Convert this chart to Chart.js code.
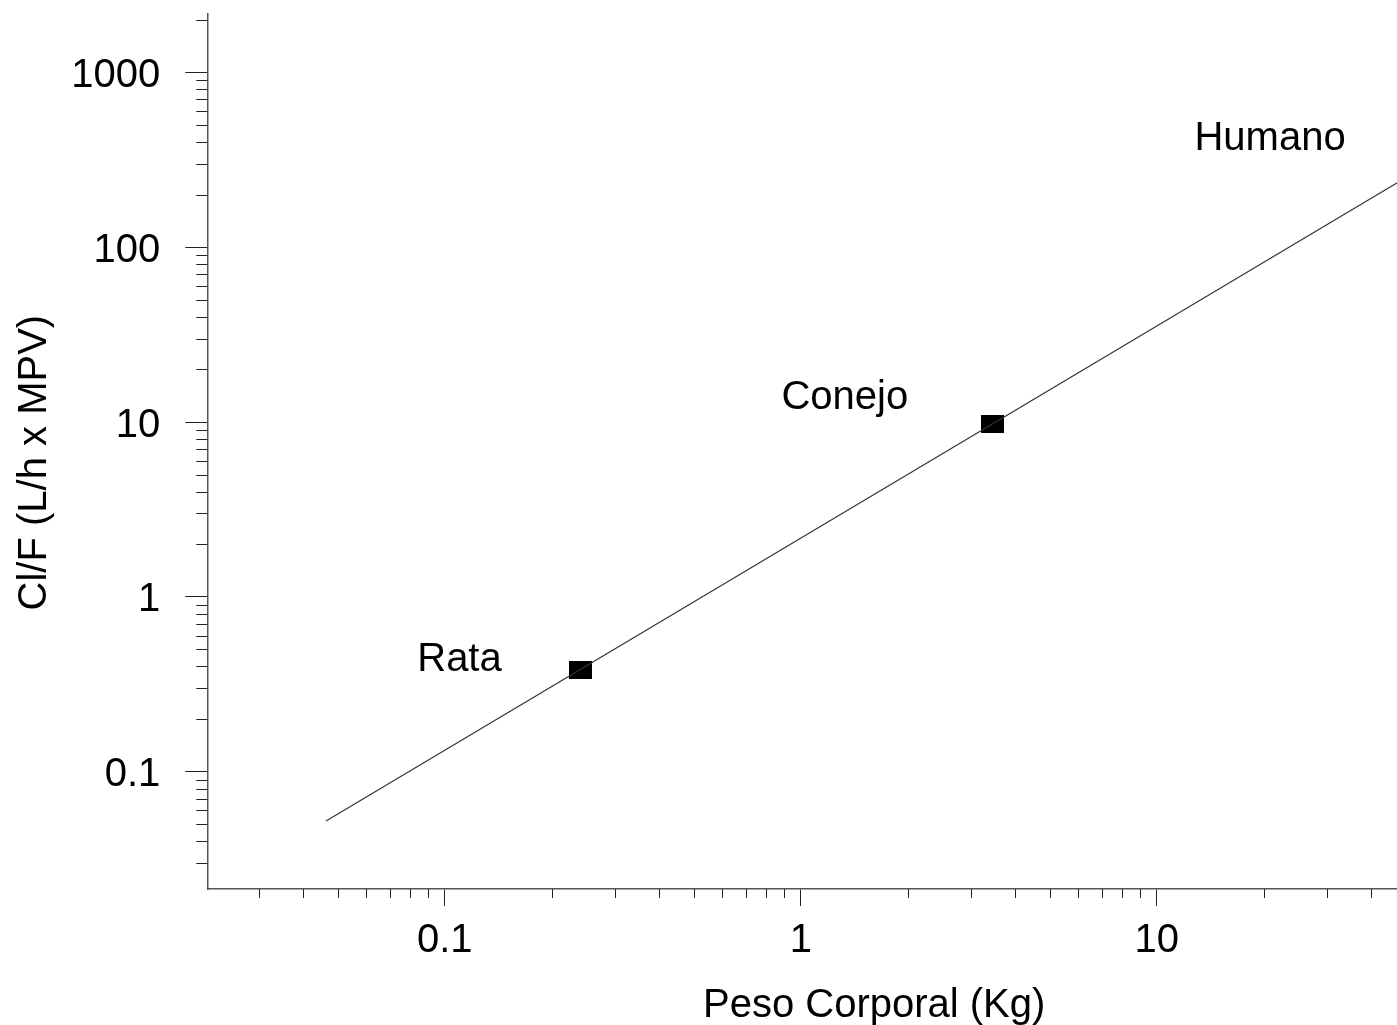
<!DOCTYPE html>
<html lang="es">
<head>
  <meta charset="UTF-8" />
  <title>Cl/F vs Peso Corporal</title>
  <script src="https://cdn.jsdelivr.net/npm/chart.js"></script>
  <style>
    html, body { margin: 0; padding: 0; background: #fff; overflow: hidden; }
    canvas { display: block; }
  </style>
</head>
<body>
  <!-- wider than the window on purpose: the original plot runs past the right edge -->
  <canvas id="chart" width="1546" height="1025"></canvas>

  <script>
    // measured species (kg, L/h x MPV)
    const speciesNames = ['Rata', 'Conejo'];
    const speciesWeight = [0.240, 3.45];
    const speciesCl = [0.382, 9.8];

    // allometric fit line, end points
    const fitWeight = [0.0464, 70];
    const fitCl = [0.0523, 375];

    // text labels placed on the plot
    const labelNames = ['Rata', 'Conejo', 'Humano'];
    const labelWeight = [0.110, 1.33, 20.8];
    const labelCl = [0.437, 13.7, 416];

    // axis ranges and ticks
    const xRange = [0.02153, 120];
    const yRange = [0.02134, 2155];
    const xMajorTicks = [0.1, 1, 10];
    const yMajorTicks = [0.1, 1, 10, 100, 1000];
    const xMinorTicks = [0.03, 0.04, 0.05, 0.06, 0.07, 0.08, 0.09,
                         0.2, 0.3, 0.4, 0.5, 0.6, 0.7, 0.8, 0.9,
                         2, 3, 4, 5, 6, 7, 8, 9,
                         20, 30, 40, 50, 60, 70, 80, 90];
    const yMinorTicks = [0.03, 0.04, 0.05, 0.06, 0.07, 0.08, 0.09,
                         0.2, 0.3, 0.4, 0.5, 0.6, 0.7, 0.8, 0.9,
                         2, 3, 4, 5, 6, 7, 8, 9,
                         20, 30, 40, 50, 60, 70, 80, 90,
                         200, 300, 400, 500, 600, 700, 800, 900, 2000];

    const FONT = "'Liberation Sans', Arial, sans-serif";

    // filled rectangle marker
    const marker = document.createElement('canvas');
    marker.width = 23;
    marker.height = 18;
    const mctx = marker.getContext('2d');
    mctx.fillStyle = '#000';
    mctx.fillRect(0, 0, 23, 18);

    const minorTicksAndLabels = {
      id: 'minorTicksAndLabels',
      afterDraw(chart) {
        const ctx = chart.ctx;
        const xs = chart.scales.x, ys = chart.scales.y;
        ctx.save();
        ctx.strokeStyle = '#222';
        ctx.lineWidth = 1;
        xMinorTicks.forEach(v => {
          if (v < xs.min || v > xs.max) return;
          const px = Math.round(xs.getPixelForValue(v)) + 0.5;
          ctx.beginPath();
          ctx.moveTo(px, xs.top);
          ctx.lineTo(px, xs.top + 9);
          ctx.stroke();
        });
        yMinorTicks.forEach(v => {
          if (v < ys.min || v > ys.max) return;
          const py = Math.round(ys.getPixelForValue(v)) + 0.5;
          ctx.beginPath();
          ctx.moveTo(ys.right - 11, py);
          ctx.lineTo(ys.right, py);
          ctx.stroke();
        });
        ctx.fillStyle = '#000';
        ctx.font = '40px ' + FONT;
        ctx.textAlign = 'center';
        ctx.textBaseline = 'middle';
        labelNames.forEach((t, i) => {
          ctx.fillText(t, xs.getPixelForValue(labelWeight[i]), ys.getPixelForValue(labelCl[i]));
        });
        ctx.restore();
      }
    };

    const ctx = document.getElementById('chart').getContext('2d');
    new Chart(ctx, {
      type: 'scatter',
      data: {
        datasets: [
          {
            label: 'Ajuste',
            data: fitWeight.map((w, i) => ({ x: w, y: fitCl[i] })),
            showLine: true,
            borderColor: '#333',
            borderWidth: 1.2,
            pointRadius: 0
          },
          {
            label: 'Especies',
            data: speciesWeight.map((w, i) => ({ x: w, y: speciesCl[i] })),
            pointStyle: marker,
            backgroundColor: '#000',
            borderColor: '#000'
          }
        ]
      },
      options: {
        responsive: false,
        animation: false,
        layout: { padding: { top: 14, left: 0, right: 0, bottom: 0 } },
        plugins: { legend: { display: false }, tooltip: { enabled: false } },
        scales: {
          x: {
            type: 'logarithmic',
            min: xRange[0],
            max: xRange[1],
            afterBuildTicks: s => { s.ticks = xMajorTicks.map(v => ({ value: v, major: true })); },
            afterFit: s => { s.height = 136; s.paddingLeft = 0; s.paddingRight = 0; },
            ticks: {
              autoSkip: false, maxRotation: 0, padding: 11, color: '#000',
              font: { family: FONT, size: 40 },
              callback: v => String(v)
            },
            grid: { drawOnChartArea: false, drawTicks: true, tickLength: 17, tickColor: '#222', tickWidth: 1 },
            border: { color: '#555', width: 1.5 },
            title: {
              display: true, text: 'Peso Corporal (Kg)', color: '#000',
              font: { family: FONT, size: 40 }, padding: { top: 0, bottom: -5 }
            }
          },
          y: {
            type: 'logarithmic',
            min: yRange[0],
            max: yRange[1],
            afterBuildTicks: s => { s.ticks = yMajorTicks.map(v => ({ value: v, major: true })); },
            afterFit: s => { s.width = 207.3; s.paddingTop = 0; s.paddingBottom = 0; },
            ticks: {
              autoSkip: false, padding: 25, labelOffset: 3.5, color: '#000',
              font: { family: FONT, size: 40 },
              callback: v => String(v)
            },
            grid: { drawOnChartArea: false, drawTicks: true, tickLength: 22, tickColor: '#222', tickWidth: 1 },
            border: { color: '#555', width: 1.5 },
            title: {
              display: true, text: 'Cl/F (L/h x MPV)  ', color: '#000',
              font: { family: FONT, size: 40 }, padding: { top: 11, bottom: 0 }
            }
          }
        }
      },
      plugins: [minorTicksAndLabels]
    });
  </script>
</body>
</html>
